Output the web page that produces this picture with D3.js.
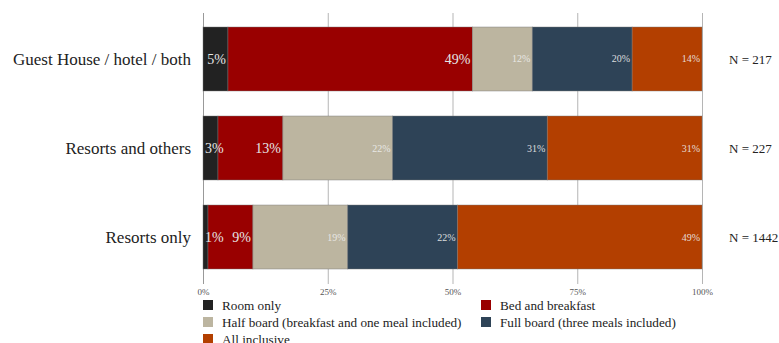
<!DOCTYPE html>
<html>
<head>
<meta charset="utf-8">
<script src="https://cdn.jsdelivr.net/npm/d3@7"></script>
<style>
  html, body { margin: 0; padding: 0; background: #fff; }
  svg { display: block; font-family: "Liberation Serif", "DejaVu Serif", serif; }
</style>
</head>
<body>
<svg id="chart" width="779" height="343"></svg>
<script>
// Accommodation type by board basis, shares in percent
const categories = ["Guest House / hotel / both", "Resorts and others", "Resorts only"];
const sampleSizes = ["N = 217", "N = 227", "N = 1442"];
const seriesNames = [
  "Room only",
  "Bed and breakfast",
  "Half board (breakfast and one meal included)",
  "Full board (three meals included)",
  "All inclusive"
];
const roomOnly = [5, 3, 1];
const bedBreakfast = [49, 13, 9];
const halfBoard = [12, 22, 19];
const fullBoard = [20, 31, 22];
const allInclusive = [14, 31, 49];
const tickValues = [0, 25, 50, 75, 100];
const tickLabels = ["0%", "25%", "50%", "75%", "100%"];
const colors = ["#222222", "#990000", "#bcb5a0", "#2e4357", "#b33f00"];

const seriesValues = [roomOnly, bedBreakfast, halfBoard, fullBoard, allInclusive];
const rows = categories.map((c, i) => {
  const r = { category: c };
  seriesNames.forEach((s, j) => { r[s] = seriesValues[j][i]; });
  return r;
});
const stacked = d3.stack().keys(seriesNames)(rows);

const svg = d3.select("#chart");
const x = d3.scaleLinear().domain([0, 100]).range([203, 702]);
const y = d3.scaleBand().domain(categories).range([18.1, 277.9]).paddingInner(0.281).paddingOuter(0.1);

// vertical grid lines
svg.append("g")
  .selectAll("line")
  .data(tickValues)
  .join("line")
  .attr("x1", d => x(d) + 0.5).attr("x2", d => x(d) + 0.5)
  .attr("y1", 13).attr("y2", 284)
  .attr("stroke", (d, i) => i === 0 ? "#999" : "#b5b5b5")
  .attr("stroke-width", 1);

// stacked segments
const layers = svg.append("g").selectAll("g")
  .data(stacked)
  .join("g")
  .attr("fill", (d, i) => colors[i]);

layers.selectAll("rect")
  .data(d => d)
  .join("rect")
  .attr("x", d => x(d[0]))
  .attr("y", d => y(d.data.category))
  .attr("width", d => x(d[1]) - x(d[0]))
  .attr("height", y.bandwidth())
  .attr("stroke", "rgba(120,120,120,0.55)")
  .attr("stroke-width", 0.8);

// value labels, right-aligned at the segment end but never starting before the segment
stacked.forEach((layer, si) => {
  const big = si < 2;
  const g = svg.append("g");
  layer.forEach(d => {
    const t = g.append("text")
      .attr("y", y(d.data.category) + y.bandwidth() / 2)
      .attr("dy", "0.35em")
      .attr("text-anchor", "end")
      .attr("font-size", big ? 14 : 10)
      .attr("fill", big ? "#e6e6e6" : "#eeeeee")
      .attr("fill-opacity", big ? 1 : 0.9)
      .text((d[1] - d[0]) + "%");
    const w = t.node().getComputedTextLength();
    t.attr("x", Math.max(x(d[1]) - 2, x(d[0]) + 2 + w));
  });
});

// category labels
svg.append("g").selectAll("text")
  .data(categories)
  .join("text")
  .attr("x", 191)
  .attr("y", d => y(d) + y.bandwidth() / 2)
  .attr("dy", "0.35em")
  .attr("text-anchor", "end")
  .attr("font-size", 17)
  .attr("fill", "#222")
  .text(d => d);

// sample sizes
svg.append("g").selectAll("text")
  .data(categories)
  .join("text")
  .attr("x", 729)
  .attr("y", d => y(d) + y.bandwidth() / 2)
  .attr("dy", "0.35em")
  .attr("font-size", 13)
  .attr("fill", "#222")
  .text((d, i) => sampleSizes[i]);

// bottom axis labels
const axis = d3.axisBottom(x).tickValues(tickValues)
  .tickFormat((d, i) => tickLabels[i]).tickSize(0).tickPadding(0);
const ax = svg.append("g").attr("transform", "translate(0,289)").call(axis);
ax.select(".domain").remove();
ax.selectAll("text").attr("font-size", 9).attr("fill", "#555")
  .attr("font-family", "Liberation Serif, serif");

// legend
const legend = svg.append("g");
const legendPos = [[203, 305], [481, 305], [203, 322], [481, 322], [203, 339]];
seriesNames.forEach((s, i) => {
  const [lx, ly] = legendPos[i];
  legend.append("rect").attr("x", lx).attr("y", ly - 5).attr("width", 10).attr("height", 10)
    .attr("fill", colors[i]);
  legend.append("text").attr("x", lx + 19).attr("y", ly).attr("dy", "0.35em")
    .attr("font-size", 13.2).attr("fill", "#222").text(s);
});
</script>
</body>
</html>
